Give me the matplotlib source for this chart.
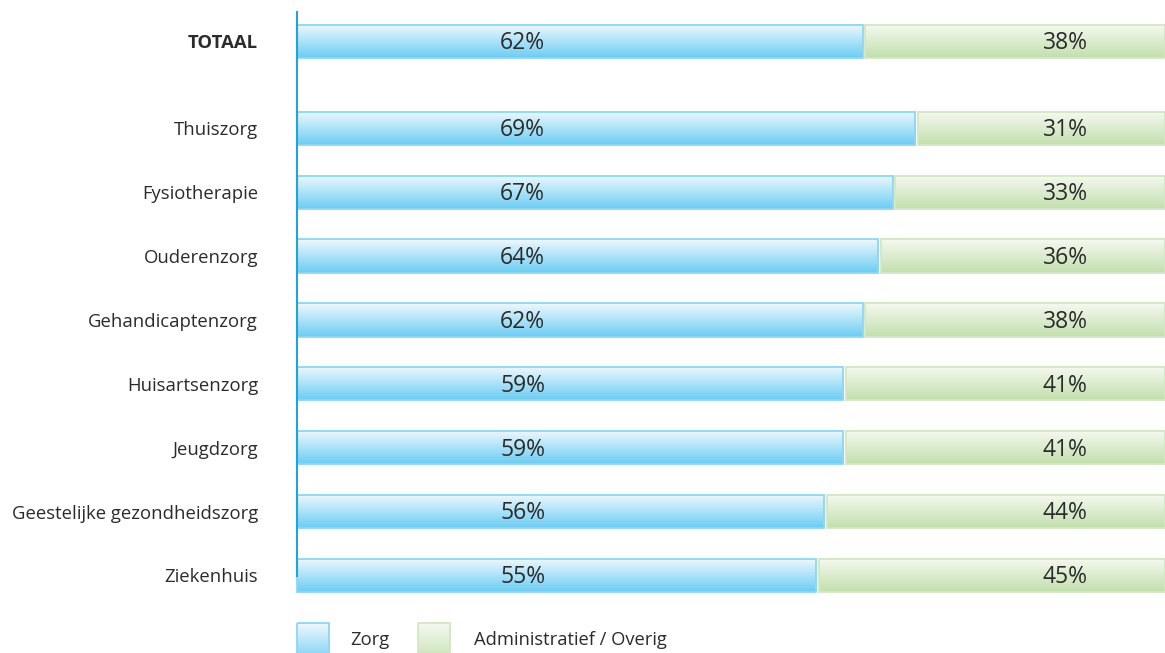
import matplotlib.pyplot as plt
from matplotlib.colors import LinearSegmentedColormap
from matplotlib.patches import Rectangle
import numpy as np

plt.rcParams['font.family'] = ['Open Sans', 'DejaVu Sans']

# categories, top to bottom
categories = ['TOTAAL', 'Thuiszorg', 'Fysiotherapie', 'Ouderenzorg', 'Gehandicaptenzorg',
              'Huisartsenzorg', 'Jeugdzorg', 'Geestelijke gezondheidszorg', 'Ziekenhuis']
# printed labels
zorg_labels = [62, 69, 67, 64, 62, 59, 59, 56, 55]
admin_labels = [38, 31, 33, 36, 38, 41, 41, 44, 45]
# bar lengths as drawn in the picture (share of the full bar, %)
zorg_bar = [65.3, 71.4, 68.8, 67.1, 65.3, 63.1, 63.1, 60.9, 60.0]
admin_bar = [100 - v for v in zorg_bar]

legend_labels = ['Zorg', 'Administratief / Overig']

blue_cmap = LinearSegmentedColormap.from_list('blue', ['#eef8fd', '#6ccdf3'])
green_cmap = LinearSegmentedColormap.from_list('green', ['#f5f9f0', '#c3dfad'])
blue_edge = '#8dd6f4'
green_edge = '#d3e7c4'
grad = np.linspace(0, 1, 64).reshape(-1, 1)


def grad_rect(ax, x0, x1, y0, y1, cmap, edge):
    # y0 = top, y1 = bottom (axis is inverted)
    ax.imshow(grad, cmap=cmap, extent=(x0, x1, y1, y0), aspect='auto',
              origin='upper', interpolation='bicubic', zorder=2, clip_on=False)
    ax.add_patch(Rectangle((x0, y0), x1 - x0, y1 - y0, facecolor='none',
                           edgecolor=edge, linewidth=1.3, zorder=3, clip_on=False))


fig = plt.figure(figsize=(11.65, 6.53), dpi=100)
ax = fig.add_axes([297 / 1165, 0, 1 - 297 / 1165, 1])

# pixel -> y units
sp = 63.86
ypos = [0] + [1.36 + i for i in range(len(categories) - 1)]
h = 0.52

for i in range(len(categories)):
    y = ypos[i]
    grad_rect(ax, 0, zorg_bar[i] - 0.15, y - h / 2, y + h / 2, blue_cmap, blue_edge)
    grad_rect(ax, zorg_bar[i] + 0.15, 100, y - h / 2, y + h / 2, green_cmap, green_edge)
    ax.text(26.0, y + 0.03, f'{zorg_labels[i]}%', ha='center', va='center',
            fontsize=16.5, color='#2b2b2b', zorder=4)
    ax.text(88.5, y + 0.03, f'{admin_labels[i]}%', ha='center', va='center',
            fontsize=16.5, color='#2b2b2b', zorder=4)

# left axis line
ax.plot([0, 0], [(12 - 41.5) / sp, (576 - 41.5) / sp], color='#1fa5dc',
        linewidth=1.5, zorder=5, clip_on=False)

# legend
ly0 = (623 - 41.5) / sp
ly1 = (665 - 41.5) / sp
ly = (640 - 41.5) / sp
grad_rect(ax, 0, 3.69, ly0, ly1, blue_cmap, blue_edge)
grad_rect(ax, 13.9, 17.6, ly0, ly1, green_cmap, green_edge)
ax.text(6.1, ly, legend_labels[0], ha='left', va='center', fontsize=13.2, color='#2b2b2b')
ax.text(20.4, ly, legend_labels[1], ha='left', va='center', fontsize=13.2, color='#2b2b2b')

ax.set_xlim(0, 100)
ax.set_ylim(653 / sp - 41.5 / sp, -41.5 / sp)
ax.set_yticks(ypos)
ax.set_yticklabels(categories, fontsize=13.3, color='#2b2b2b')
ax.get_yticklabels()[0].set_fontweight('bold')
ax.tick_params(axis='y', length=0, pad=28)
ax.set_xticks([])
for s in ax.spines.values():
    s.set_visible(False)

plt.savefig('out.png', dpi=100)
